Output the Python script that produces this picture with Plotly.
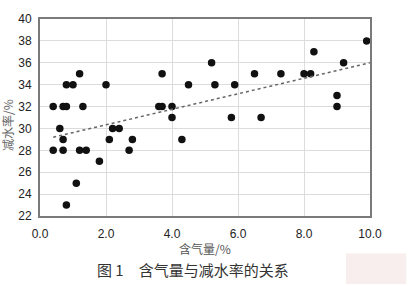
import numpy as np
import plotly.graph_objects as go

air_content = [0.4, 0.7, 0.8, 0.8, 1.0, 1.2, 1.3, 2.0,
               0.6, 0.7, 0.4, 0.7, 1.2, 1.4, 1.8, 1.1, 0.8,
               2.1, 2.2, 2.4, 2.8, 2.7,
               3.7, 3.6, 3.7, 4.0, 4.0, 4.5, 5.2, 5.3, 5.9, 5.8, 6.5, 6.7, 4.3,
               7.3, 8.0, 8.2, 8.3, 9.2, 9.9, 9.0, 9.0]
water_reduction = [32, 32, 32, 34, 34, 35, 32, 34,
                   30, 29, 28, 28, 28, 28, 27, 25, 23,
                   29, 30, 30, 29, 28,
                   35, 32, 32, 32, 31, 34, 36, 34, 34, 31, 35, 31, 29,
                   35, 35, 35, 37, 36, 38, 33, 32]
trend_x = [0.4, 10.0]
trend_y = [29.2, 36.0]

x_ticks = [0, 2, 4, 6, 8, 10]
x_labels = ["0.0", "2.0", "4.0", "6.0", "8.0", "10.0"]
y_ticks = [22, 24, 26, 28, 30, 32, 34, 36, 38, 40]

fig = go.Figure()
fig.add_trace(go.Scatter(x=air_content, y=water_reduction, mode="markers",
                         marker=dict(color="#111111", size=7.5), showlegend=False))
fig.add_trace(go.Scatter(x=trend_x, y=trend_y, mode="lines",
                         line=dict(color="#666666", width=1.5, dash="dot"), showlegend=False))

num_font = dict(family="Liberation Sans, Arial, sans-serif", size=12, color="#222222")
fig.update_layout(
    width=411, height=286,
    margin=dict(l=40, r=41, t=15, b=70),
    paper_bgcolor="white", plot_bgcolor="white",
    xaxis=dict(range=[0, 10], tickvals=x_ticks, ticktext=x_labels, tickfont=num_font,
               showgrid=True, gridcolor="#dcdcdc", gridwidth=1, zeroline=False,
               showline=True, linecolor="#7a7a7a", linewidth=2, mirror=True,
               ticks="", ticklabelstandoff=6),
    yaxis=dict(range=[22, 40], tickvals=y_ticks, tickfont=num_font,
               showgrid=True, gridcolor="#dcdcdc", gridwidth=1, zeroline=False,
               showline=True, linecolor="#7a7a7a", linewidth=2, mirror=True,
               ticks="", ticklabelstandoff=4),
    annotations=[
        dict(text="减水率/%", x=-0.098, y=0.46, xref="paper", yref="paper", textangle=-90,
             xanchor="center", yanchor="middle",
             showarrow=False, font=dict(family="Noto Sans CJK SC", size=12, color="#666666")),
        dict(text="含气量/%", x=0.5, y=-0.165, xref="paper", yref="paper", xanchor="center", yanchor="middle",
             showarrow=False, font=dict(family="Noto Sans CJK SC", size=12, color="#555555")),
        dict(text="图 1　含气量与减水率的关系", x=0.465, y=-0.27, xref="paper", yref="paper",
             xanchor="center", yanchor="middle",
             showarrow=False, font=dict(family="Noto Sans CJK SC", size=15, color="#333333")),
    ],
    shapes=[
        dict(type="rect", xref="paper", yref="paper", x0=0.927, x1=1.11, y0=-0.345, y1=-0.19,
             fillcolor="#f8eeee", line=dict(width=0), layer="below"),
    ],
)
fig.write_html("out.html")
